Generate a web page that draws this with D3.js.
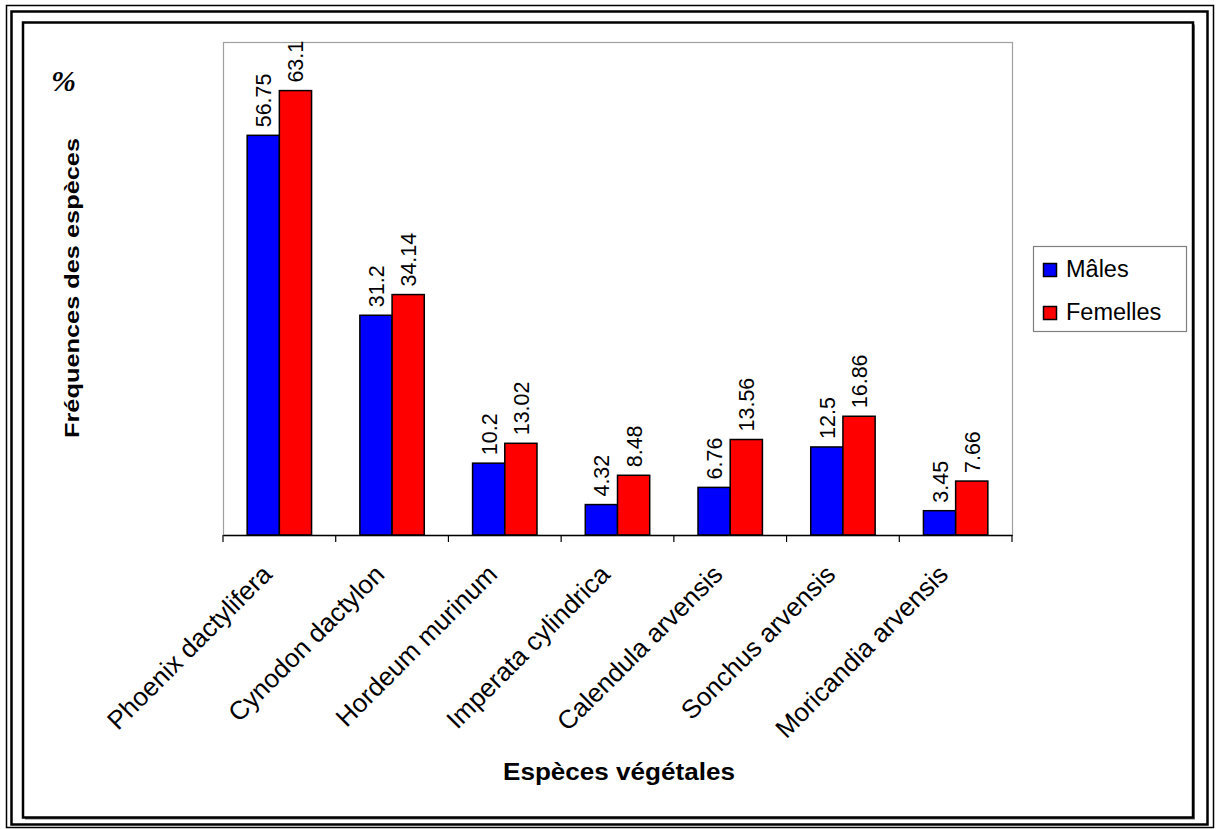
<!DOCTYPE html>
<html>
<head>
<meta charset="utf-8">
<script src="https://cdn.jsdelivr.net/npm/d3@7/dist/d3.min.js"></script>
<style>
  html, body { margin: 0; padding: 0; background: #fff; }
  svg { display: block; }
  text { font-family: "Liberation Sans", Arial, sans-serif; fill: #000; }
</style>
</head>
<body>
<svg id="chart" width="1217" height="829"></svg>
<script>
// Plant species eaten, frequency (%) by sex
const species = [
  "Phoenix dactylifera",
  "Cynodon dactylon",
  "Hordeum murinum",
  "Imperata cylindrica",
  "Calendula arvensis",
  "Sonchus arvensis",
  "Moricandia arvensis"
];
const males   = [56.75, 31.2, 10.2, 4.32, 6.76, 12.5, 3.45];
const females = [63.1, 34.14, 13.02, 8.48, 13.56, 16.86, 7.66];
const seriesNames = ["Mâles", "Femelles"];
const seriesColors = ["#0000ff", "#ff0000"];
const yDomain = [0, 70];

const svg = d3.select("#chart");

// page border (double rule) and chart-area frame
svg.append("rect").attr("x", 6.5).attr("y", 5.5).attr("width", 1207).attr("height", 822)
  .attr("fill", "none").attr("stroke", "#000").attr("stroke-width", 1.5);
svg.append("rect").attr("x", 11.5).attr("y", 11.5).attr("width", 1196).attr("height", 813)
  .attr("fill", "none").attr("stroke", "#000").attr("stroke-width", 2.5);
svg.append("rect").attr("x", 25).attr("y", 24.5).attr("width", 1170).attr("height", 795)
  .attr("fill", "#777").attr("stroke", "none");
svg.append("rect").attr("x", 23).attr("y", 22.5).attr("width", 1170).attr("height", 795)
  .attr("fill", "#fff").attr("stroke", "#000").attr("stroke-width", 2.5);

// plot area
const plot = { left: 223, right: 1012, top: 42, bottom: 535 };

const x = d3.scaleBand().domain(species).range([plot.left, plot.right]).padding(0);
const barW = x.bandwidth() / 3.5;
const xs = d3.scaleBand().domain(seriesNames)
  .range([(x.bandwidth() - 2 * barW) / 2, (x.bandwidth() + 2 * barW) / 2]).padding(0);
const y = d3.scaleLinear().domain(yDomain).range([plot.bottom, plot.top]);

svg.append("rect")
  .attr("x", plot.left + 0.5).attr("y", plot.top + 0.5)
  .attr("width", plot.right - plot.left).attr("height", plot.bottom - plot.top)
  .attr("fill", "none").attr("stroke", "#a0a0a0").attr("stroke-width", 1.2);

const rows = species.map((s, i) => ({ s, vals: [males[i], females[i]] }));

const groups = svg.append("g").selectAll("g").data(rows).join("g")
  .attr("transform", d => `translate(${x(d.s)},0)`);

groups.selectAll("rect").data(d => d.vals.map((v, k) => ({ v, k })))
  .join("rect")
  .attr("x", d => xs(seriesNames[d.k]))
  .attr("y", d => y(d.v))
  .attr("width", xs.bandwidth())
  .attr("height", d => y(0) - y(d.v))
  .attr("fill", d => seriesColors[d.k])
  .attr("stroke", "#000").attr("stroke-width", 1.5);

// value labels, vertical, above each bar
groups.selectAll("text.val").data(d => d.vals.map((v, k) => ({ v, k })))
  .join("text").attr("class", "val")
  .attr("transform", d => `translate(${xs(seriesNames[d.k]) + xs.bandwidth() / 2 + 8},${y(d.v) - 8}) rotate(-90)`)
  .attr("font-size", 21.5)
  .text(d => String(d.v));

// category axis
const xAxis = d3.axisBottom(x).tickSize(0).tickFormat("");
const gx = svg.append("g").attr("transform", `translate(0,${plot.bottom})`).call(xAxis);
gx.select(".domain").attr("stroke", "#000").attr("stroke-width", 1.5);
const bounds = species.map(s => x(s)).concat([plot.right]);
gx.selectAll("line.tk").data(bounds).join("line").attr("class", "tk")
  .attr("x1", d => d).attr("x2", d => d).attr("y1", 0).attr("y2", 7)
  .attr("stroke", "#000").attr("stroke-width", 1.2);

svg.append("g").selectAll("text").data(species).join("text")
  .attr("transform", d => `translate(${x(d) + x.bandwidth() / 2 - 6},${plot.bottom + 41}) rotate(-45)`)
  .attr("text-anchor", "end")
  .attr("font-size", 26)
  .text(d => d);

// axis titles
svg.append("text")
  .attr("x", 503).attr("y", 780)
  .attr("font-size", 23).attr("font-weight", "bold")
  .attr("textLength", 232).attr("lengthAdjust", "spacingAndGlyphs")
  .text("Espèces végétales");

svg.append("text")
  .attr("transform", "translate(79,438) rotate(-90)")
  .attr("font-size", 20).attr("font-weight", "bold")
  .attr("textLength", 300).attr("lengthAdjust", "spacingAndGlyphs")
  .text("Fréquences des espèces");

svg.append("text")
  .attr("x", 51).attr("y", 91)
  .style("font-family", "'Liberation Serif', 'Times New Roman', serif")
  .attr("font-size", 30).attr("font-style", "italic").attr("font-weight", "bold")
  .text("%");

// legend
const lg = svg.append("g");
lg.append("rect").attr("x", 1033.5).attr("y", 246.5).attr("width", 153).attr("height", 85)
  .attr("fill", "#fff").attr("stroke", "#808080").attr("stroke-width", 1.2);
const li = lg.selectAll("g").data(seriesNames).join("g")
  .attr("transform", (d, i) => `translate(0,${i * 43})`);
li.append("rect").attr("x", 1043.5).attr("y", 263.5).attr("width", 13).attr("height", 13)
  .attr("fill", (d, i) => seriesColors[i]).attr("stroke", "#000").attr("stroke-width", 1.5);
li.append("text").attr("x", 1066).attr("y", 277).attr("font-size", 23.5).text(d => d);
</script>
</body>
</html>
